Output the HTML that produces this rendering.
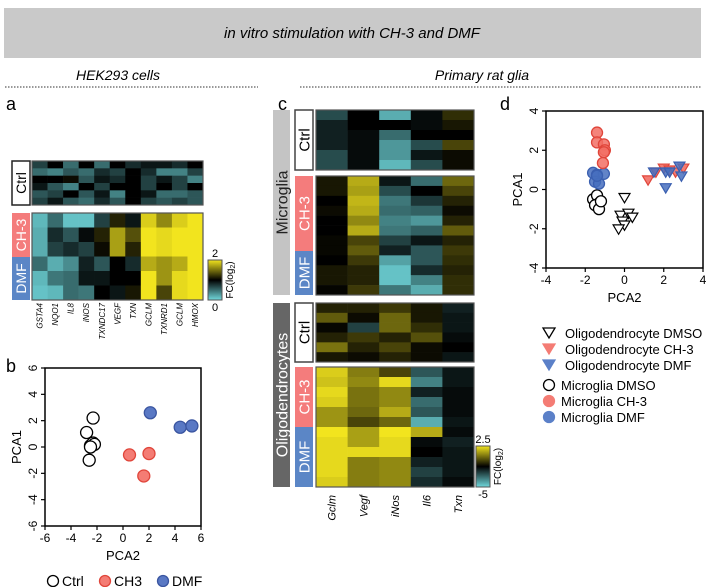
<!DOCTYPE html>
<html><head><meta charset="utf-8"><style>
body{margin:0;background:#fff;}
svg{display:block;font-family:"Liberation Sans",sans-serif;}
</style></head><body>
<svg id="fig" width="706" height="587" viewBox="0 0 706 587">
<rect x="4" y="8" width="697" height="50" fill="#c9c9c9"/>
<text x="352" y="38" text-anchor="middle" font-size="15" font-style="italic">in vitro stimulation with CH-3 and DMF</text>
<text x="118" y="80" text-anchor="middle" font-size="14" font-style="italic">HEK293 cells</text>
<line x1="5" y1="87" x2="258" y2="87" stroke="#333" stroke-dasharray="1.5,1.5"/>
<text x="482" y="80" text-anchor="middle" font-size="14" font-style="italic">Primary rat glia</text>
<line x1="300" y1="87" x2="701" y2="87" stroke="#333" stroke-dasharray="1.5,1.5"/>
<text x="6" y="110" font-size="18">a</text>
<text x="6" y="372" font-size="18">b</text>
<text x="278" y="110" font-size="18">c</text>
<text x="500" y="110" font-size="18">d</text>
<defs><linearGradient id="cb" x1="0" y1="1" x2="0" y2="0"><stop offset="0" stop-color="#70d8dc"/><stop offset="0.5" stop-color="#000"/><stop offset="1" stop-color="#f2e41e"/></linearGradient></defs>
<g id="g"></g>
</svg>
<script>
// ---- Panel a data ----
const aGenes=["GSTA4","NQO1","IL8","iNOS","TXNDC17","VEGF","TXN","GCLM","TXNRD1","GCLM","HMOX"];
const aCtrl=[[-0.3,0,-0.5,0,-0.5,0,-0.2,-0.1,-0.1,-0.2,0],[-0.5,-0.6,-0.4,-0.5,-0.2,-0.3,0,-0.2,-0.6,-0.6,-0.3],[0,0,0.05,-0.4,-0.1,-0.2,0,-0.3,-0.1,-0.3,-0.6],[-0.1,-0.4,-0.6,0,-0.3,0,0,-0.3,0,-0.3,0],[-0.4,-0.3,0,-0.4,-0.1,-0.6,0,-0.1,-0.5,-0.5,-0.4],[-0.3,-0.1,-0.4,-0.5,-0.2,-0.4,0,-0.3,-0.4,-0.3,-0.4]];
const aTreat=[[-0.85,-0.5,-0.9,-0.9,-0.3,0.15,-0.1,0.9,0.6,0.9,1],[-0.8,-0.2,-0.4,-0.05,0.15,0.7,0.35,1,0.95,1,1],[-0.8,-0.3,-0.2,-0.3,0.05,0.7,0.15,1,0.95,1,1],[-0.5,-0.8,-0.65,-0.15,-0.4,0,-0.2,0.75,0.65,0.75,1],[-0.85,-0.55,-0.5,-0.1,-0.1,0,0,1,0.65,0.95,1],[-0.9,-0.85,-0.5,-0.55,0,-0.1,0.1,1,0.3,0.95,1]];
// ---- Panel c data ----
const cGenes=["Gclm","Vegf","iNos","Il6","Txn"];
const mgCtrl=[[-0.35,0,-0.8,-0.05,0.2],[-0.15,0,0,-0.05,0.1],[-0.15,-0.05,-0.5,0,0],[-0.15,-0.05,-0.7,-0.35,0.3],[-0.35,-0.05,-0.7,-0.1,0.05],[-0.35,-0.05,-0.85,-0.35,0.05]];
const mgTreat=[[0.1,0.75,-0.1,-0.5,0.45],[0.1,0.7,-0.35,0,0.3],[0,0.8,-0.55,-0.25,0.15],[0.05,0.75,-0.5,-0.45,0.05],[0,0.6,-0.6,-0.7,0.15],[0,0.75,-0.55,-0.45,0.4],[0.03,0.3,-0.3,-0.1,0.15],[0.03,0.4,-0.15,-0.4,0.25],[0,0.25,-0.75,-0.4,0.2],[0.1,0.15,-0.9,-0.2,0.15],[0.1,0.15,-0.9,-0.6,0.2],[0.02,0.25,-0.55,-0.8,0.2]];
const olCtrl=[[0.15,0.15,0.25,0.1,-0.15],[0.4,0.05,0.45,0.1,-0.1],[0.03,-0.3,0.45,0.2,-0.1],[0.15,0.25,0.15,0.35,-0.05],[0.5,0.15,0.3,0.05,0],[0.1,0.05,0.15,0.05,-0.1]];
const olTreat=[[0.9,0.55,0.3,-0.4,-0.1],[0.85,0.6,0.95,-0.6,-0.1],[0.95,0.5,0.6,-0.15,-0.05],[0.9,0.5,0.6,-0.5,-0.05],[0.65,0.45,0.75,-0.4,-0.05],[0.65,0.3,0.45,-0.8,-0.1],[1,0.7,1,0.75,-0.05],[0.95,0.7,0.95,-0.05,-0.15],[0.95,0.95,0.95,0,-0.1],[0.95,0.55,0.6,-0.15,-0.1],[0.95,0.55,0.6,-0.3,-0.1],[0.9,0.55,0.6,-0.2,-0.05]];
// ---- Panel b data ----
const bCtrlX=[-2.3,-2.8,-2.5,-2.3,-2.2,-2.6,-2.5], bCtrlY=[2.2,1.1,0.1,0.3,0.2,-1.0,0.0];
const bCh3X=[0.5,2.0,1.6], bCh3Y=[-0.6,-0.5,-2.2];
const bDmfX=[2.1,4.4,5.3], bDmfY=[2.6,1.5,1.6];
const bTicks=[-6,-4,-2,0,2,4,6];
// ---- Panel d data ----
const mDmsoX=[-1.6,-1.4,-1.3,-1.5,-1.3,-1.2], mDmsoY=[-0.5,-0.3,-0.7,-0.8,-1.0,-0.6];
const mCh3X=[-1.4,-1.4,-1.05,-1.0,-1.05,-1.1], mCh3Y=[2.9,2.4,2.3,2.0,1.9,1.35];
const mDmfX=[-1.6,-1.4,-1.05,-1.5,-1.3,-1.4], mDmfY=[0.85,0.75,0.8,0.4,0.3,0.7];
const oDmsoX=[0,-0.2,0.2,0.4,-0.1,0.0,-0.3], oDmsoY=[-0.4,-1.3,-1.2,-1.4,-1.6,-1.8,-2.0];
const oCh3X=[1.2,1.6,2.0,2.3,2.6,3.0], oCh3Y=[0.5,0.9,1.1,1.0,0.9,1.1];
const oDmfX=[1.5,2.1,2.1,2.8,2.9,2.3], oDmfY=[0.9,0.9,0.1,1.2,0.7,0.9];
const dTicks=[-4,-2,0,2,4];

const NS="http://www.w3.org/2000/svg", G=document.getElementById('g');
function mk(t,a,p){const e=document.createElementNS(NS,t);for(const k in a)e.setAttribute(k,a[k]);(p||G).appendChild(e);return e;}
function col(v){const t=Math.min(1,Math.abs(v));const c=v<0?[112,216,220]:[242,228,30];return `rgb(${Math.round(c[0]*t)},${Math.round(c[1]*t)},${Math.round(c[2]*t)})`;}
function heat(data,x,y,w,h,name){const rh=h/data.length,cw=w/data[0].length;
 data.forEach((r,i)=>r.forEach((v,j)=>{const e=mk('rect',{x:x+j*cw,y:y+i*rh,width:cw+0.3,height:rh+0.3,fill:col(v)});
 
 }));
 const b=mk('rect',{x:x,y:y,width:w,height:h,fill:'none',stroke:'#555','stroke-width':1.2});
 
 }
function vlabel(x,y,w,h,fill,txt,tc,stroke,name,fs){const r=mk('rect',{x:x,y:y,width:w,height:h,fill:fill,stroke:stroke||'none','stroke-width':1.5});
 
 
 const t=mk('text',{x:0,y:0,transform:`translate(${x+w/2+fs*0.36},${y+h/2}) rotate(-90)`,'text-anchor':'middle','font-size':fs,fill:tc});t.textContent=txt;
 
 }
function rotLabels(labels,x0,cw,y,name,fs){labels.forEach((s,j)=>{const t=mk('text',{transform:`translate(${x0+(j+0.5)*cw+fs*0.35},${y}) rotate(-90)`,'text-anchor':'end','font-size':fs,'font-style':'italic'});t.textContent=s;
 
 });}
function colorbar(x,y,w,h,top,bot,name){const r=mk('rect',{x:x,y:y,width:w,height:h,fill:'url(#cb)',stroke:'#555'});
 
 
 let t=mk('text',{x:x+w/2,y:y-3,'text-anchor':'middle','font-size':11});t.textContent=top;
 
 
 t=mk('text',{x:x+w/2,y:y+h+11,'text-anchor':'middle','font-size':11});t.textContent=bot;
 
 
 t=mk('text',{transform:`translate(${x+w+11},${y+h/2}) rotate(-90)`,'text-anchor':'middle','font-size':10});t.innerHTML='FC(log<tspan font-size="7" dy="2">2</tspan><tspan dy="-2">)</tspan>';
 
 }

// Panel a
heat(aCtrl,32,161,171,44,'a-ctrl-heatmap');
heat(aTreat,32,213,171,87,'a-treat-heatmap');
vlabel(12,161,18,44,'#fff','Ctrl','#000','#222','a-ctrl-label',14);
vlabel(12,213,18,44,'#f47c7c','CH-3','#fff',null,'a-ch3-label',14);
vlabel(12,257,18,43,'#5b86c6','DMF','#fff',null,'a-dmf-label',14);
rotLabels(aGenes,32,171/11,303,'a-gene-label',8);
colorbar(208,260,14,40,'2','0','a-colorbar');

// Panel c
heat(mgCtrl,316,110,158,60,'c-mg-ctrl-heatmap');
heat(mgTreat,316,176,158,119,'c-mg-treat-heatmap');
heat(olCtrl,316,303,158,59,'c-ol-ctrl-heatmap');
heat(olTreat,316,367,158,120,'c-ol-treat-heatmap');
vlabel(273,110,17,185,'#c4c4c4','Microglia','#222',null,'microglia-group-label',16);
vlabel(273,303,17,184,'#666','Oligodendrocytes','#fff',null,'oligo-group-label',16);
vlabel(295,110,18,60,'#fff','Ctrl','#000','#444','c-mg-ctrl-label',15);
vlabel(295,176,18,75,'#f47c7c','CH-3','#fff',null,'c-mg-ch3-label',15);
vlabel(295,251,18,44,'#5b86c6','DMF','#fff',null,'c-mg-dmf-label',15);
vlabel(295,303,18,59,'#fff','Ctrl','#000','#444','c-ol-ctrl-label',15);
vlabel(295,367,18,60,'#f47c7c','CH-3','#fff',null,'c-ol-ch3-label',15);
vlabel(295,427,18,60,'#5b86c6','DMF','#fff',null,'c-ol-dmf-label',15);
rotLabels(cGenes,316,158/5,495,'c-gene-label',11);
colorbar(476,446,14,41,'2.5','-5','c-colorbar');

// scatter helper
function axes(x0,y0,x1,y1,ticks,p){const sx=v=>x0+(v-ticks[0])/(ticks[ticks.length-1]-ticks[0])*(x1-x0);
 const sy=v=>y1-(v-ticks[0])/(ticks[ticks.length-1]-ticks[0])*(y1-y0);
 const r=mk('rect',{x:x0,y:y0,width:x1-x0,height:y1-y0,fill:'none',stroke:'#000','stroke-width':1.5});
 
 
 ticks.forEach(v=>{mk('line',{x1:sx(v),x2:sx(v),y1:y1,y2:y1+4,stroke:'#000','stroke-width':1.2});
 mk('line',{x1:x0-4,x2:x0,y1:sy(v),y2:sy(v),stroke:'#000','stroke-width':1.2});
 let t=mk('text',{x:sx(v),y:y1+16,'text-anchor':'middle','font-size':12});t.textContent=v;
 
 
 t=mk('text',{transform:`translate(${x0-8},${sy(v)}) rotate(-90)`,'text-anchor':'middle','font-size':12});t.textContent=v;
 
 });
 let t=mk('text',{x:(x0+x1)/2,y:y1+34,'text-anchor':'middle','font-size':13});t.textContent='PCA2';
 
 
 t=mk('text',{transform:`translate(${x0-24},${(y0+y1)/2}) rotate(-90)`,'text-anchor':'middle','font-size':13});t.textContent='PCA1';
 
 
 return [sx,sy];}
function circles(X,Y,sx,sy,fill,stroke,name,r){X.forEach((x,i)=>{const e=mk('circle',{cx:sx(x),cy:sy(Y[i]),r:r,fill:fill,stroke:stroke,'stroke-width':1.3});
 
 });}
function tris(X,Y,sx,sy,fill,stroke,name,s){X.forEach((x,i)=>{const cx=sx(x),cy=sy(Y[i]);const e=mk('polygon',{points:`${cx-s},${cy-s*0.7} ${cx+s},${cy-s*0.7} ${cx},${cy+s*1.0}`,fill:fill,stroke:stroke,'stroke-width':1.2});
 
 });}

// Panel b
let [bx,by]=axes(45,368,201,526,bTicks,'b');
circles(bCtrlX,bCtrlY,bx,by,'#fff','#000','b-ctrl-point',6);
circles(bCh3X,bCh3Y,bx,by,'#f47c74','#e0453a','b-ch3-point',6);
circles(bDmfX,bDmfY,bx,by,'#5978c4','#3a55a0','b-dmf-point',6);
[['Ctrl','#fff','#000',53],['CH3','#f47c74','#e0453a',105],['DMF','#5978c4','#3a55a0',163]].forEach(l=>{
 const c=mk('circle',{cx:l[3],cy:581,r:5.5,fill:l[1],stroke:l[2],'stroke-width':1.3});
 
 
 const t=mk('text',{x:l[3]+9,y:586,'font-size':14});t.textContent=l[0];
 
 });

// Panel d
let [dx,dy]=axes(546,111,703,268,dTicks,'d');
circles(mDmsoX,mDmsoY,dx,dy,'#fff','#000','d-microglia-dmso-point',5.5);
circles(mDmfX,mDmfY,dx,dy,'rgba(70,110,190,0.85)','#3a5fb0','d-microglia-dmf-point',5.5);
circles(mCh3X,mCh3Y,dx,dy,'rgba(242,110,100,0.85)','#e0453a','d-microglia-ch3-point',5.5);
tris(oDmsoX,oDmsoY,dx,dy,'#fff','#000','d-oligo-dmso-point',5.5);
tris(oCh3X,oCh3Y,dx,dy,'rgba(242,110,100,0.9)','#e0453a','d-oligo-ch3-point',5.5);
tris(oDmfX,oDmfY,dx,dy,'rgba(70,110,190,0.85)','#3a5fb0','d-oligo-dmf-point',5.5);
const leg=[['tri','#fff','#000','Oligodendrocyte DMSO',333],['tri','#f47c74','#f47c74','Oligodendrocyte CH-3',349],['tri','#5b80c8','#5b80c8','Oligodendrocyte DMF',365],
 ['c','#fff','#000','Microglia DMSO',385],['c','#f47c74','#f47c74','Microglia CH-3',401],['c','#5b80c8','#5b80c8','Microglia DMF',417]];
leg.forEach(l=>{let e;if(l[0]=='tri'){e=mk('polygon',{points:`543,${l[4]-5} 555,${l[4]-5} 549,${l[4]+5}`,fill:l[1],stroke:l[2],'stroke-width':1.3});}
 else e=mk('circle',{cx:549,cy:l[4],r:5.5,fill:l[1],stroke:l[2],'stroke-width':1.3});
 
 
 const t=mk('text',{x:l[0]=='tri'?565:561,y:l[4]+5,'font-size':13});t.textContent=l[3];
 
 });
</script>
</body></html>
